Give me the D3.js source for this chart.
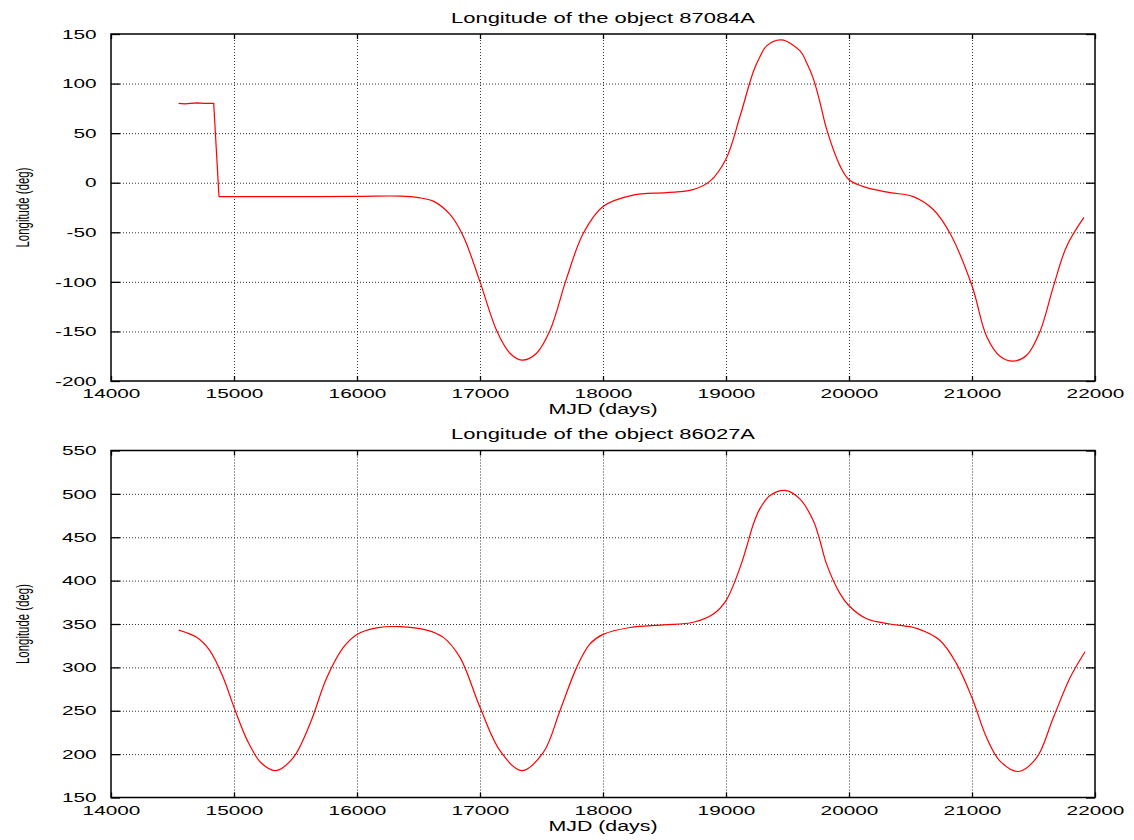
<!DOCTYPE html>
<html>
<head>
<meta charset="utf-8">
<script src="https://cdn.jsdelivr.net/npm/d3@7"></script>
<style>
  body { margin: 0; background: #fff; }
  text { font-family: "Liberation Sans", Arial, sans-serif; fill: #000; }
</style>
</head>
<body>
<div id="chart"></div>
<script>
// data
const xTicks = [14000, 15000, 16000, 17000, 18000, 19000, 20000, 21000, 22000];

const mjd87084 = [14550, 14600, 14650, 14700, 14760, 14835, 14878, 15000, 15500, 16000, 16350, 16500, 16620, 16756, 16864, 17000,
  17135, 17244, 17340, 17460, 17569, 17705, 17840, 18000, 18244, 18515, 18732, 18870, 19000, 19114, 19222, 19276, 19330,
  19450, 19602, 19656, 19710, 19764, 19818, 19927, 20000, 20144, 20333, 20522, 20685, 20821, 21000, 21119, 21228, 21336, 21445,
  21553, 21661, 21770, 21910];
const lon87084 = [80, 79.5, 80, 80.5, 80, 80, -14, -14, -14, -13.8, -13.5, -15, -18.6, -32, -54, -100,
  -149, -172, -179, -172, -149, -96, -51, -24, -12.5, -10, -7, 1.6, 24, 67, 112, 127, 138,
  144, 133, 121, 105, 81, 54, 17, 3, -5, -10, -14, -27, -51, -104, -155, -175, -180, -174,
  -150, -105, -64, -35];
const yTicks87084 = [-200, -150, -100, -50, 0, 50, 100, 150];
const step87084 = 6; // last index of the jump, drawn straight

const mjd86027 = [14550, 14697, 14805, 14913, 15000, 15111, 15220, 15340, 15482, 15618, 15754, 15889, 16000, 16160, 16350, 16567,
  16702, 16837, 17000, 17163, 17339, 17515, 17650, 17786, 17894, 18000, 18220, 18490, 18734, 18897, 19000, 19114, 19168,
  19222, 19276, 19358, 19480, 19602, 19710, 19764, 19818, 19927, 20000, 20144, 20333, 20550, 20740, 20875, 21000, 21119, 21228,
  21377, 21526, 21661, 21797, 21919];
const lon86027 = [343, 334.6, 319, 288, 254, 215, 190, 181, 196, 235, 288, 323, 338, 345.5, 347, 343,
  334.6, 311.5, 254, 204, 181, 202, 250, 300, 327, 338, 346, 349, 352, 361.5, 377, 415, 439,
  465, 483, 498, 504, 494, 469, 446, 419, 385, 371, 356, 350, 345, 331, 304, 265, 219, 192,
  180, 196, 242, 288, 318];
const yTicks86027 = [150, 200, 250, 300, 350, 400, 450, 500, 550];

const panels = [
  { title: "Longitude of the object 87084A", mjd: mjd87084, lon: lon87084, yTicks: yTicks87084, step: step87084, top: 34 },
  { title: "Longitude of the object 86027A", mjd: mjd86027, lon: lon86027, yTicks: yTicks86027, step: 0, top: 450.5 }
];

const W = 1134, H = 840;
const left = 111, width = 984, height = 347;
const stretch = 1.6;

const svg = d3.select("#chart").append("svg")
  .attr("width", W)
  .attr("height", H);

const x = d3.scaleLinear().domain([14000, 22000]).range([0, width]);
const fmt = d => String(d);

panels.forEach(p => {
  const g = svg.append("g").attr("transform", `translate(${left},${p.top})`);
  const y = d3.scaleLinear().domain(d3.extent(p.yTicks)).range([height, 0]);

  // grid
  g.append("g")
    .call(d3.axisBottom(x).tickValues(xTicks.slice(1, -1)).tickSize(height).tickFormat(""))
    .call(a => a.select(".domain").remove())
    .selectAll("line")
      .attr("class", "grid")
      .attr("stroke", "#000")
      .attr("stroke-width", 0.8)
      .attr("stroke-dasharray", "1,2");

  g.append("g")
    .call(d3.axisLeft(y).tickValues(p.yTicks.slice(1, -1)).tickSize(-width).tickFormat(""))
    .call(a => a.select(".domain").remove())
    .selectAll("line")
      .attr("class", "grid")
      .attr("stroke", "#000")
      .attr("stroke-width", 0.8)
      .attr("stroke-dasharray", "1,2");

  // axes (ticks inside)
  const yl = g.append("g")
    .call(d3.axisLeft(y).tickValues(p.yTicks).tickFormat(fmt).tickSizeInner(-9).tickSizeOuter(0).tickPadding(9));
  const xb = g.append("g")
    .attr("transform", `translate(0,${height})`)
    .call(d3.axisBottom(x).tickValues(xTicks).tickFormat(fmt).tickSizeInner(-5).tickSizeOuter(0).tickPadding(8));
  g.append("g")
    .attr("transform", `translate(${width},0)`)
    .call(d3.axisRight(y).tickValues(p.yTicks).tickSizeInner(-9).tickSizeOuter(0).tickFormat(""));
  g.append("g")
    .call(d3.axisTop(x).tickValues(xTicks).tickSizeInner(-5).tickSizeOuter(0).tickFormat(""));

  g.selectAll(".domain").remove();
  g.selectAll(".tick line:not(.grid)")
    .attr("stroke", "#000").attr("stroke-width", 1.3);

  [yl, xb].forEach(a => a.selectAll("text")
    .attr("transform", `scale(${stretch},1)`)
    .style("font-size", "13px")
    .style("font-family", "'Liberation Sans', Arial, sans-serif"));

  // border
  g.append("rect")
    .attr("width", width)
    .attr("height", height)
    .attr("fill", "none")
    .attr("stroke", "#000")
    .attr("stroke-width", 1.5);

  // curve: straight up to the jump, smooth after it
  const pts = p.mjd.map((m, i) => [m, p.lon[i]]);
  const lineStraight = d3.line().x(d => x(d[0])).y(d => y(d[1]));
  const lineSmooth = d3.line().x(d => x(d[0])).y(d => y(d[1])).curve(d3.curveCatmullRom.alpha(0.5));
  const segs = p.step > 0
    ? [[pts.slice(0, p.step + 1), lineStraight], [pts.slice(p.step), lineSmooth]]
    : [[pts, lineSmooth]];
  segs.forEach(([data, gen]) => {
    g.append("path")
      .datum(data)
      .attr("fill", "none")
      .attr("stroke", "#ff0000")
      .attr("stroke-width", 1.2)
      .attr("d", gen);
  });

  // labels
  g.append("text")
    .attr("x", width / 2)
    .attr("y", -11.5)
    .attr("text-anchor", "middle")
    .attr("textLength", 304)
    .attr("lengthAdjust", "spacingAndGlyphs")
    .style("font-size", "14px")
    .text(p.title);

  g.append("text")
    .attr("x", width / 2)
    .attr("y", height + 33)
    .attr("text-anchor", "middle")
    .attr("textLength", 109)
    .attr("lengthAdjust", "spacingAndGlyphs")
    .style("font-size", "14px")
    .text("MJD (days)");

  g.append("text")
    .attr("transform", `translate(${29 - left},${height / 2}) rotate(-90)`)
    .attr("text-anchor", "middle")
    .attr("textLength", 80)
    .attr("lengthAdjust", "spacingAndGlyphs")
    .style("font-size", "18px")
    .text("Longitude (deg)");
});
</script>
</body>
</html>
